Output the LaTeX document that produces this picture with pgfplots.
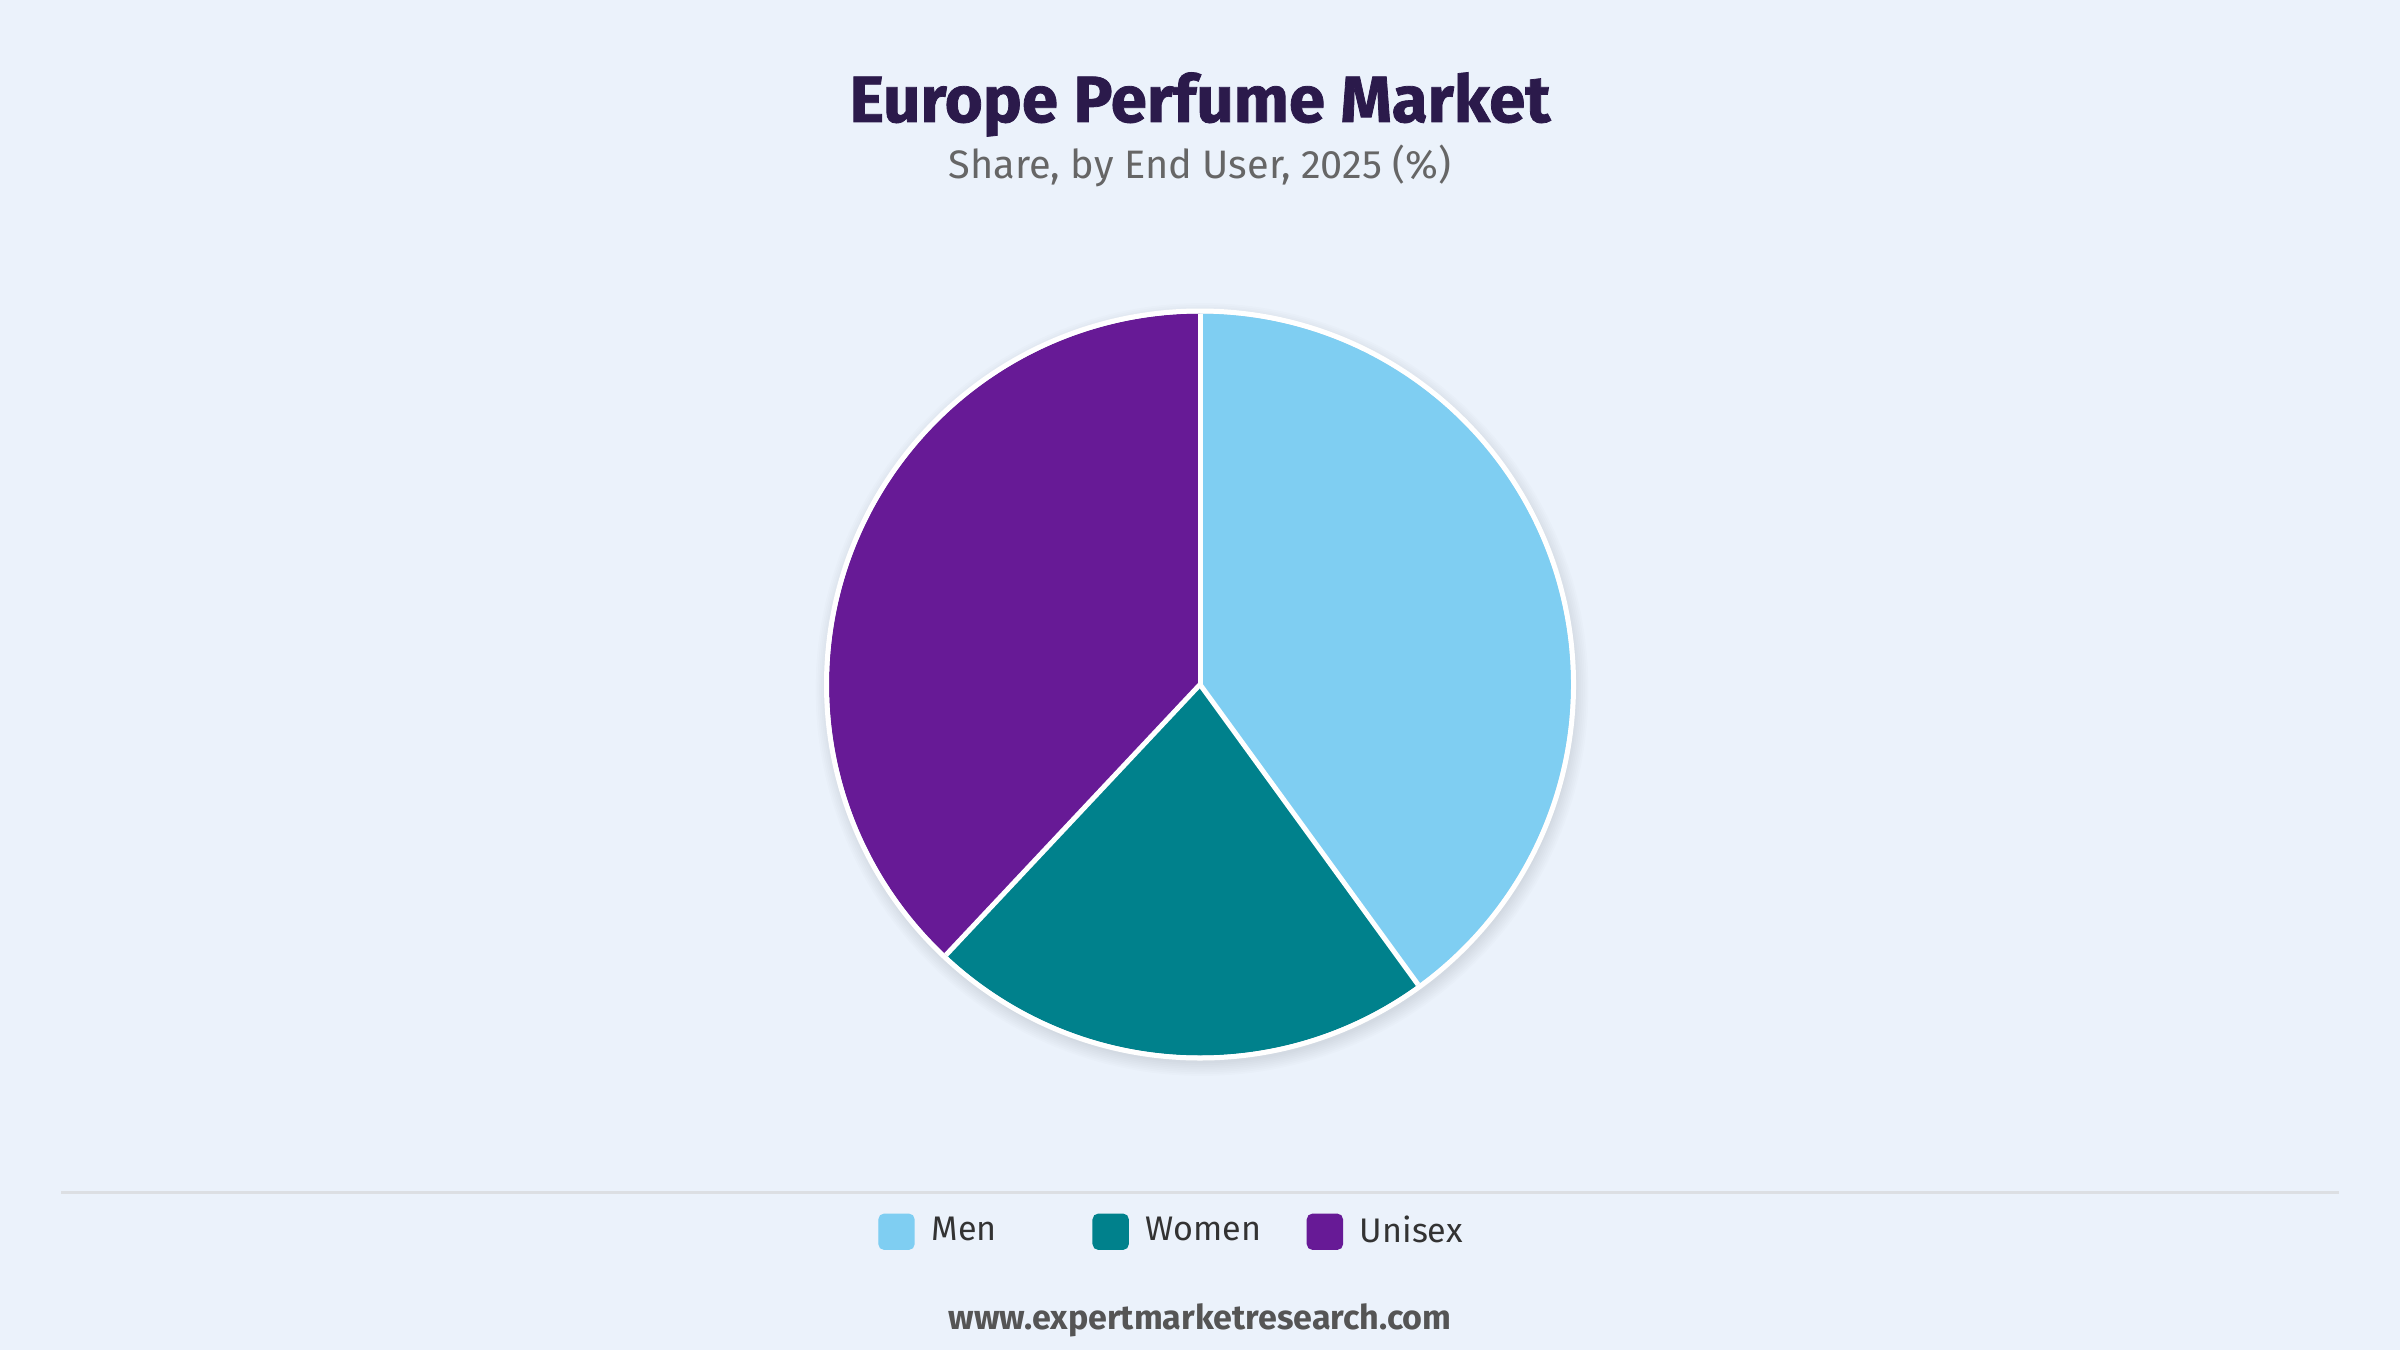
\documentclass[border=0pt]{standalone}
\usepackage{fontspec}
\setmainfont{Fira Sans}
\newfontfamily\titlefont{Fira Sans}[BoldFeatures={FakeBold=1.2}]
\usepackage{pgfplots}
\usepackage{pgfplotstable}
\pgfplotsset{compat=1.18}

\definecolor{bgc}{HTML}{EBF2FB}
\definecolor{menc}{HTML}{7FCEF2}
\definecolor{womenc}{HTML}{00818C}
\definecolor{unic}{HTML}{671A96}
\definecolor{titlec}{HTML}{2B1A4B}
\definecolor{subc}{HTML}{666666}
\definecolor{legc}{HTML}{333333}
\definecolor{footc}{HTML}{555555}
\definecolor{rulec}{HTML}{DCDFE3}

% share by end user, 2025 (%)
\pgfplotstableread{
label  value
Men    40
Women  22
Unisex 38
}\shares

\pgfplotstablegetelem{0}{value}\of\shares\let\vMen\pgfplotsretval
\pgfplotstablegetelem{1}{value}\of\shares\let\vWomen\pgfplotsretval
\pgfplotstablegetelem{2}{value}\of\shares\let\vUni\pgfplotsretval

% slice boundaries, clockwise from 12 o'clock
\pgfmathsetmacro\aA{90}
\pgfmathsetmacro\aB{\aA-3.6*\vMen}
\pgfmathsetmacro\aC{\aB-3.6*\vWomen}
\pgfmathsetmacro\aD{\aC-3.6*\vUni}
\def\R{3.71cm}

\newcommand\sector[3]{%
  \fill[#1] (axis cs:0,0) -- ++(#2:\R) arc[start angle=#2, end angle=#3, radius=\R] -- cycle;}

\begin{document}
\begin{tikzpicture}
\fill[bgc] (0,0) rectangle (24,13.5);

\node[anchor=base, text=titlec, font=\fontsize{18.6}{22}\selectfont\titlefont\bfseries] at (12,12.28) {Europe Perfume Market};
\node[anchor=base, text=subc, font=\fontsize{11.3}{13}\selectfont] at (12,11.71) {Share, by End User, 2025 (\%)};

\draw[rulec, line width=0.03cm] (0.61,1.58) -- (23.39,1.58);

\node[anchor=base, text=footc, font=\fontsize{9.7}{11}\selectfont\bfseries] at (12,0.205) {www.expertmarketresearch.com};

\begin{axis}[
  at={(12cm,6.655cm)}, anchor=center,
  hide axis,
  x=\R, y=\R,
  xmin=-1, xmax=1, ymin=-1, ymax=1,
  clip=false,
  legend columns=3,
  legend style={
    at={(axis description cs:0.0664,-0.2375)}, anchor=west,
    draw=none, fill=none, inner sep=0pt, outer sep=0pt,
    font=\fontsize{9.7}{12}\selectfont, text=legc,
    nodes={inner sep=0pt},
    /tikz/every odd column/.append style={column sep=0.168cm},
  },
]
% soft shadow
\pgfplotsinvokeforeach{1,...,8}{
  \fill[black, opacity=0.012] (axis cs:0,0) ++(0.02cm,-0.05cm) circle[radius=3.72cm+#1*0.018cm];
}
\sector{menc}{\aA}{\aB}
\sector{womenc}{\aB}{\aC}
\sector{unic}{\aC}{\aD}
\draw[white, line width=0.05cm] (axis cs:0,0) -- ++(\aA:\R);
\draw[white, line width=0.05cm] (axis cs:0,0) -- ++(\aB:\R);
\draw[white, line width=0.05cm] (axis cs:0,0) -- ++(\aC:\R);
\draw[white, line width=0.05cm] (axis cs:0,0) circle[radius=3.735cm];

\addlegendimage{legend image code/.code={\fill[menc, rounded corners=1.5pt] (0cm,-0.175cm) rectangle (0.35cm,0.175cm);}}
\addlegendentry{\makebox[1.61cm][l]{Men}}
\addlegendimage{legend image code/.code={\fill[womenc, rounded corners=1.5pt] (0cm,-0.175cm) rectangle (0.35cm,0.175cm);}}
\addlegendentry{\makebox[1.61cm][l]{Women}}
\addlegendimage{legend image code/.code={\fill[unic, rounded corners=1.5pt] (0cm,-0.175cm) rectangle (0.35cm,0.175cm);}}
\addlegendentry{Unisex}
\end{axis}
\pgfresetboundingbox
\path (0,0) rectangle (24,13.5);
\end{tikzpicture}
\end{document}
